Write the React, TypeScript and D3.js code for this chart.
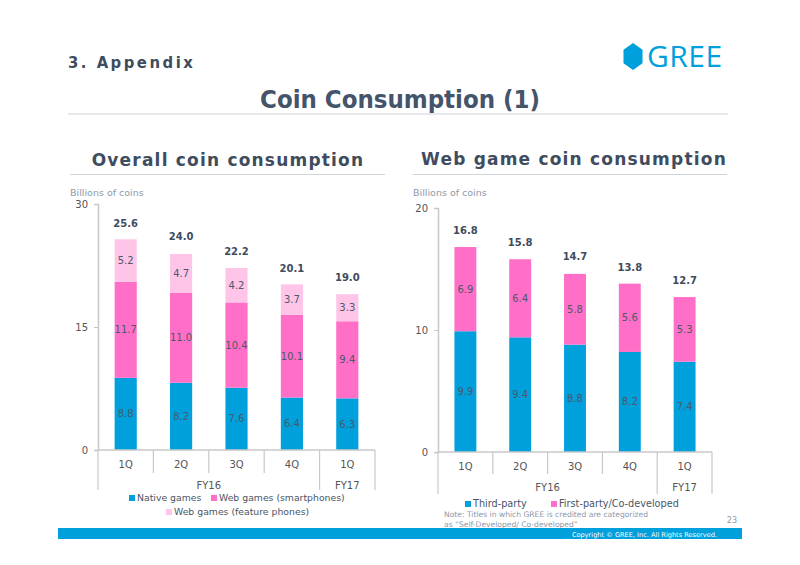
import { useRef, useEffect } from "react";
import * as d3 from "d3";

const quarters = ["1Q", "2Q", "3Q", "4Q", "1Q"];
const keys = ["FY16-1Q", "FY16-2Q", "FY16-3Q", "FY16-4Q", "FY17-1Q"];
const years = [
  { label: "FY16", from: 0, to: 4 },
  { label: "FY17", from: 4, to: 5 },
];

// overall coin consumption
const nativeGames = [8.8, 8.2, 7.6, 6.4, 6.3];
const webSmartphones = [11.7, 11.0, 10.4, 10.1, 9.4];
const webFeaturePhones = [5.2, 4.7, 4.2, 3.7, 3.3];
const overallTotals = [25.6, 24.0, 22.2, 20.1, 19.0];
const overallTicks = [0, 15, 30];

// web game coin consumption
const thirdParty = [9.9, 9.4, 8.8, 8.2, 7.4];
const firstParty = [6.9, 6.4, 5.8, 5.6, 5.3];
const webTotals = [16.8, 15.8, 14.7, 13.8, 12.7];
const webTicks = [0, 10, 20];

const BLUE = "#00a0dc";
const PINK = "#ff6fc8";
const LIGHT_PINK = "#ffc5e8";
const INK = "#3e4c5e";
const MUTED = "#8e99aa";
const FONT = "'DejaVu Sans', Verdana, sans-serif";
const CONDENSED = "'DejaVu Sans Condensed', 'DejaVu Sans', sans-serif";

type Series = { name: string; values: number[]; color: string };

interface PanelOpts {
  left: number;
  right: number;
  zeroY: number;
  topY: number;
  max: number;
  ticks: number[];
  series: Series[];
  totals: number[];
  quarterLineY: number;
  yearLineY: number;
  labelY: number;
  yearY: number;
}

function drawPanel(svg: d3.Selection<SVGSVGElement, unknown, null, undefined>, o: PanelOpts) {
  const g = svg.append("g");
  const x = d3.scaleBand().domain(keys).range([o.left, o.right]).paddingInner(0.6).paddingOuter(0.3);
  const step = x.step();
  const y = d3.scaleLinear().domain([0, o.max]).range([o.zeroY, o.topY]);

  // stacked bars
  const rows = keys.map((k, i) => {
    const r: Record<string, number | string> = { key: k };
    o.series.forEach((s) => (r[s.name] = s.values[i]));
    return r;
  });
  const stacked = d3.stack<Record<string, number | string>>().keys(o.series.map((s) => s.name))(rows as any);

  stacked.forEach((layer, li) => {
    const color = o.series[li].color;
    g.selectAll(null)
      .data(layer)
      .join("rect")
      .attr("x", (d) => x(String(d.data.key))!)
      .attr("y", (d) => y(d[1]))
      .attr("width", x.bandwidth())
      .attr("height", (d) => y(d[0]) - y(d[1]))
      .attr("fill", color);
    g.selectAll(null)
      .data(layer)
      .join("text")
      .attr("x", (d) => x(String(d.data.key))! + x.bandwidth() / 2)
      .attr("y", (d) => (y(d[0]) + y(d[1])) / 2)
      .attr("dy", "0.35em")
      .attr("text-anchor", "middle")
      .style("font-family", FONT)
      .style("font-size", "10px")
      .style("fill", "#4d5868")
      .text((d) => (d[1] - d[0]).toFixed(1));
  });

  // totals
  g.selectAll(null)
    .data(o.totals)
    .join("text")
    .attr("x", (_, i) => x(keys[i])! + x.bandwidth() / 2)
    .attr("y", (d) => y(d) - 13)
    .attr("text-anchor", "middle")
    .style("font-family", FONT)
    .style("font-size", "10px")
    .style("font-weight", "bold")
    .style("fill", INK)
    .text((d) => d.toFixed(1));

  // y axis
  const yAxis = g
    .append("g")
    .attr("transform", `translate(${o.left},0)`)
    .call(d3.axisLeft(y).tickValues(o.ticks).tickSize(4).tickPadding(6).tickFormat(d3.format("d")));
  yAxis.select(".domain").attr("stroke", "#c8c8c8").attr("stroke-width", 1.5);
  yAxis.selectAll(".tick line").attr("stroke", "#c8c8c8");
  yAxis.selectAll("text").style("font-family", FONT).style("font-size", "10px").style("fill", "#555");

  // x axis with two-level labels
  const lineColor = "#c8c8c8";
  g.append("line")
    .attr("x1", o.left)
    .attr("x2", o.right)
    .attr("y1", o.zeroY)
    .attr("y2", o.zeroY)
    .attr("stroke", lineColor)
    .attr("stroke-width", 1.5);
  const bounds = d3.range(keys.length + 1).map((i) => o.left + step * i);
  const yearBounds = new Set<number>([0, ...years.map((yr) => yr.to)]);
  bounds.forEach((bx, i) => {
    g.append("line")
      .attr("x1", bx)
      .attr("x2", bx)
      .attr("y1", o.zeroY)
      .attr("y2", yearBounds.has(i) ? o.yearLineY : o.quarterLineY)
      .attr("stroke", lineColor)
      .attr("stroke-width", 1.2);
  });
  g.selectAll(null)
    .data(quarters)
    .join("text")
    .attr("x", (_, i) => x(keys[i])! + x.bandwidth() / 2)
    .attr("y", o.labelY)
    .attr("text-anchor", "middle")
    .style("font-family", FONT)
    .style("font-size", "10px")
    .style("fill", "#555")
    .text((d) => d);
  g.selectAll(null)
    .data(years)
    .join("text")
    .attr("x", (d) => o.left + step * ((d.from + d.to) / 2))
    .attr("y", o.yearY)
    .attr("text-anchor", "middle")
    .style("font-family", FONT)
    .style("font-size", "10px")
    .style("fill", "#555")
    .text((d) => d.label);
}

function text(
  svg: d3.Selection<SVGSVGElement, unknown, null, undefined>,
  x: number,
  y: number,
  t: string,
  size: number,
  fill: string,
  opts: { anchor?: string; weight?: string; spacing?: number; family?: string } = {}
) {
  return svg
    .append("text")
    .attr("x", x)
    .attr("y", y)
    .attr("text-anchor", opts.anchor ?? "start")
    .style("font-family", opts.family ?? FONT)
    .style("font-size", `${size}px`)
    .style("font-weight", opts.weight ?? "normal")
    .style("letter-spacing", `${opts.spacing ?? 0}px`)
    .style("fill", fill)
    .text(t);
}

export default function App() {
  const svgRef = useRef<SVGSVGElement>(null);

  useEffect(() => {
    if (!svgRef.current) return;
    const svg = d3.select(svgRef.current);
    svg.selectAll("*").remove();
    svg.attr("viewBox", "0 0 800 565");

    // header
    text(svg, 68, 68, "3. Appendix", 16.5, INK, { weight: "bold", spacing: 2.5, family: CONDENSED });
    const hex = d3.range(6).map((i) => {
      const a = (Math.PI / 3) * i - Math.PI / 2;
      return [633 + 11 * Math.cos(a), 56.5 + 13.5 * Math.sin(a)] as [number, number];
    });
    svg.append("path").attr("d", d3.line()(hex) + "Z").attr("fill", BLUE);
    text(svg, 647, 67, "GREE", 30, BLUE, { family: "'Liberation Sans Narrow', 'Open Sans', sans-serif", spacing: 0.5 });
    text(svg, 400, 108, "Coin Consumption (1)", 25.5, "#44546a", {
      anchor: "middle",
      weight: "bold",
      family: CONDENSED,
    });
    svg.append("line").attr("x1", 68).attr("x2", 728).attr("y1", 114).attr("y2", 114).attr("stroke", "#cfd3da").attr("stroke-width", 1);

    // panel titles
    text(svg, 228, 166, "Overall coin consumption", 17, INK, { anchor: "middle", weight: "bold", spacing: 1.2 });
    svg.append("line").attr("x1", 70).attr("x2", 385).attr("y1", 174.5).attr("y2", 174.5).attr("stroke", "#cfd3da");
    text(svg, 574, 165, "Web game coin consumption", 17, INK, { anchor: "middle", weight: "bold", spacing: 1.2 });
    svg.append("line").attr("x1", 413).attr("x2", 727).attr("y1", 174.5).attr("y2", 174.5).attr("stroke", "#cfd3da");

    text(svg, 70, 196, "Billions of coins", 9.5, MUTED);
    text(svg, 413, 196, "Billions of coins", 9.5, MUTED);

    drawPanel(svg, {
      left: 98,
      right: 375,
      zeroY: 450,
      topY: 204,
      max: 30,
      ticks: overallTicks,
      series: [
        { name: "Native games", values: nativeGames, color: BLUE },
        { name: "Web games (smartphones)", values: webSmartphones, color: PINK },
        { name: "Web games (feature phones)", values: webFeaturePhones, color: LIGHT_PINK },
      ],
      totals: overallTotals,
      quarterLineY: 473,
      yearLineY: 490,
      labelY: 468,
      yearY: 489,
    });

    drawPanel(svg, {
      left: 438,
      right: 712,
      zeroY: 452,
      topY: 208,
      max: 20,
      ticks: webTicks,
      series: [
        { name: "Third-party", values: thirdParty, color: BLUE },
        { name: "First-party/Co-developed", values: firstParty, color: PINK },
      ],
      totals: webTotals,
      quarterLineY: 474,
      yearLineY: 494,
      labelY: 470,
      yearY: 491,
    });

    // legends
    const leg = (sx: number, sy: number, color: string, label: string, size: number) => {
      svg.append("rect").attr("x", sx).attr("y", sy - 6).attr("width", 6).attr("height", 6).attr("fill", color);
      text(svg, sx + 8, sy, label, size, "#4a5566");
    };
    leg(129, 501, BLUE, "Native games", 9.3);
    leg(211, 501, PINK, "Web games (smartphones)", 9.3);
    leg(166, 515, LIGHT_PINK, "Web games (feature phones)", 9.3);

    leg(465, 507, BLUE, "Third-party", 9.7);
    leg(551, 507, PINK, "First-party/Co-developed", 9.7);

    text(svg, 444, 517, "Note: Titles in which GREE is credited are categorized", 7.6, MUTED);
    text(svg, 444, 527, "as \u201CSelf-Developed/ Co-developed\u201D", 7.6, MUTED);
    text(svg, 737, 523, "23", 8, MUTED, { anchor: "end" });

    // footer band
    svg.append("rect").attr("x", 58).attr("y", 528).attr("width", 684).attr("height", 11).attr("fill", BLUE);
    text(svg, 717, 536.5, "Copyright \u00A9 GREE, Inc. All Rights Reserved.", 6.6, "#ffffff", { anchor: "end" });
  }, []);

  return (
    <div style={{ position: "absolute", left: 0, top: 0, width: 800, height: 565, background: "#fff" }}>
      <svg ref={svgRef} width={800} height={565} style={{ display: "block" }} />
    </div>
  );
}
